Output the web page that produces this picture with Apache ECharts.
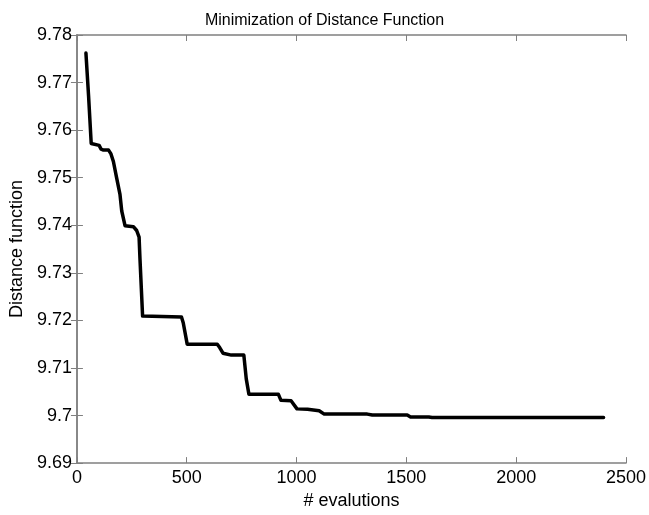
<!DOCTYPE html>
<html>
<head>
<meta charset="utf-8">
<script src="https://cdn.jsdelivr.net/npm/echarts@6/dist/echarts.min.js"></script>
<style>html,body{margin:0;padding:0;background:#fff;}#c{width:649px;height:515px;}</style>
</head>
<body>
<div id="c"></div>
<script>
var evals = [41, 53, 65, 72, 101, 110, 121, 144, 155, 166, 181, 196, 204, 219, 257, 272, 283, 287, 299, 476, 484, 502, 639, 650, 665, 703, 760, 771, 783, 917, 929, 975, 1002, 1050, 1103, 1126, 1322, 1345, 1504, 1519, 1602, 1617, 2398];
var distance = [9.7762, 9.7672, 9.7572, 9.7568, 9.7568, 9.7560, 9.7558, 9.7558, 9.7550, 9.7534, 9.7499, 9.7465, 9.7430, 9.7399, 9.7397, 9.7389, 9.7375, 9.7330, 9.7209, 9.7207, 9.7195, 9.7150, 9.7150, 9.7143, 9.7131, 9.7127, 9.7127, 9.7077, 9.7045, 9.7045, 9.7032, 9.7031, 9.7014, 9.7013, 9.7010, 9.7003, 9.7003, 9.7001, 9.7001, 9.6997, 9.6997, 9.6996, 9.6996];
var titleText = 'Minimization of Distance Function';
var xName = '# evalutions';
var yName = 'Distance function';

var pts = evals.map(function (x, i) { return [x, distance[i]]; });
var font = 'Liberation Sans, Arial, Helvetica, sans-serif';
var axisGray = '#808080';
function fmtY(v) { return String(parseFloat(v.toFixed(2))); }
function fmtX(v) { return String(Math.round(v)); }

var chart = echarts.init(document.getElementById('c'), null, {renderer: 'canvas'});
chart.setOption({
  animation: false,
  backgroundColor: '#fff',
  title: {
    text: titleText, left: 'center', top: 8,
    textStyle: {fontFamily: font, fontSize: 16, fontWeight: 'normal', color: '#000'}
  },
  grid: {left: 75, right: 22, top: 35, bottom: 46, containLabel: false},
  xAxis: [{
    type: 'value', min: 0, max: 2500, interval: 500, position: 'bottom',
    name: xName, nameLocation: 'middle', nameGap: 27,
    nameTextStyle: {fontFamily: font, fontSize: 18, color: '#000'},
    axisLine: {show: true, lineStyle: {color: axisGray, width: 1.5}},
    axisTick: {show: true, inside: true, length: 6, lineStyle: {color: axisGray}},
    axisLabel: {fontFamily: font, fontSize: 18, color: '#000', margin: 6, formatter: fmtX},
    splitLine: {show: false}
  }, {
    type: 'value', min: 0, max: 2500, interval: 500, position: 'top',
    axisLine: {show: true, lineStyle: {color: axisGray, width: 1.5}},
    axisTick: {show: true, inside: true, length: 6, lineStyle: {color: axisGray}},
    axisLabel: {show: false}, splitLine: {show: false}
  }],
  yAxis: [{
    type: 'value', min: 9.69, max: 9.78, interval: 0.01, position: 'left',
    name: yName, nameLocation: 'middle', nameGap: 50, nameRotate: 90,
    nameTextStyle: {fontFamily: font, fontSize: 18, color: '#000'},
    axisLine: {show: true, lineStyle: {color: axisGray, width: 1.5}},
    axisTick: {show: true, inside: true, length: 6, lineStyle: {color: axisGray}},
    axisLabel: {fontFamily: font, fontSize: 18, color: '#000', margin: 5, formatter: fmtY},
    splitLine: {show: false}
  }, {
    type: 'value', min: 9.69, max: 9.78, interval: 0.01, position: 'right',
    axisLine: {show: true, lineStyle: {color: axisGray, width: 1.5}},
    axisTick: {show: true, inside: true, length: 6, lineStyle: {color: axisGray}},
    axisLabel: {show: false}, splitLine: {show: false}
  }],
  series: [{
    type: 'line', data: pts, xAxisIndex: 0, yAxisIndex: 0,
    showSymbol: false, symbol: 'none',
    lineStyle: {color: '#000', width: 3.5, join: 'round', cap: 'round'}
  }]
});
</script>
</body>
</html>
